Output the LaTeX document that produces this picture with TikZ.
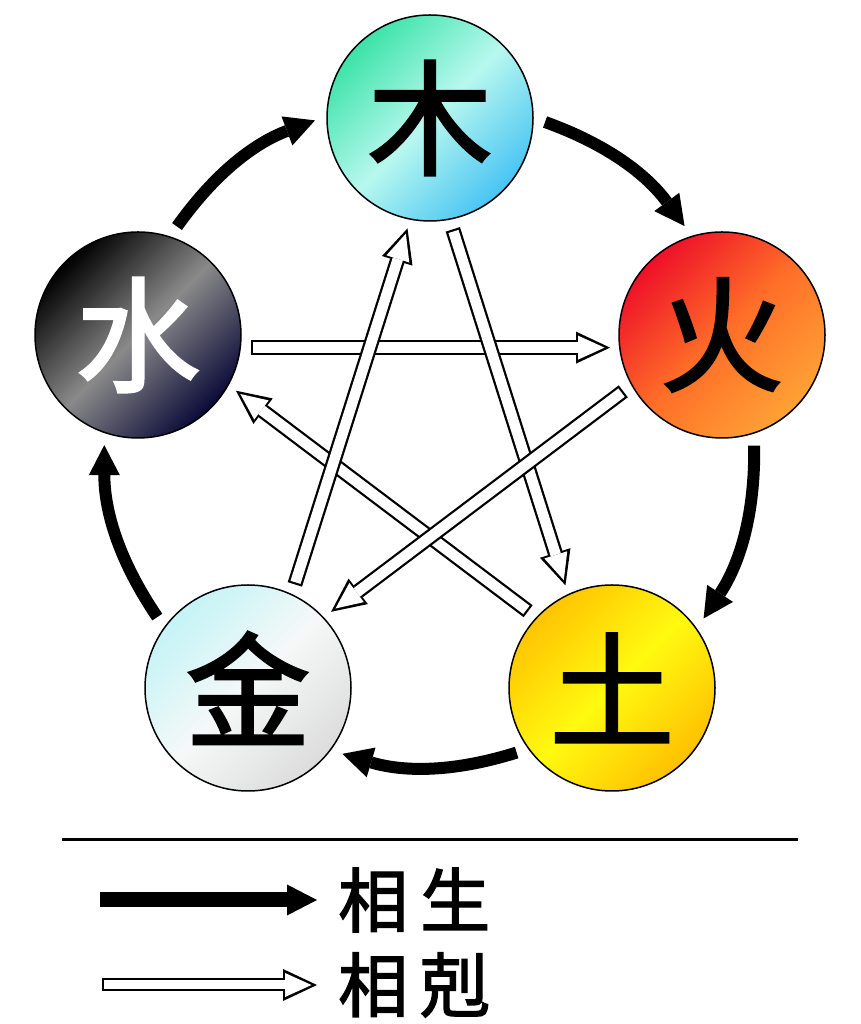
\documentclass[tikz,border=0pt]{standalone}
\usepackage{fontspec}
\newfontfamily\cjk[FakeBold=2]{Noto Sans CJK TC}
\usetikzlibrary{arrows.meta}

\definecolor{muA}{HTML}{3CE3A8}
\definecolor{muB}{HTML}{B8F8EE}
\definecolor{muC}{HTML}{48C4F4}
\definecolor{huoA}{HTML}{EE1028}
\definecolor{huoB}{HTML}{FF6E28}
\definecolor{huoC}{HTML}{FFA234}
\definecolor{tuA}{HTML}{FFC400}
\definecolor{tuB}{HTML}{FFFA10}
\definecolor{tuC}{HTML}{FFC000}
\definecolor{jinA}{HTML}{C4F4F6}
\definecolor{jinB}{HTML}{F6F8F8}
\definecolor{jinC}{HTML}{DCDCDC}
\definecolor{shuiA}{HTML}{000000}
\definecolor{shuiB}{HTML}{8A8A8A}
\definecolor{shuiC}{HTML}{0A0A38}

\begin{document}
\begin{tikzpicture}[
        x=1pt,
        y=1pt,
        element/.style={
          circle,
          draw,
          line width=1.5pt,
          minimum size=206pt,
          inner sep=0pt,
          font=\cjk\fontsize{125}{125}\selectfont
        },
        tint/.style n args={3}{
          top color=#1,
          bottom color=#3,
          middle color=#2,
          shading angle=45
        },
        sheng/.style={
          line width=12pt,
          -{Triangle[length=30pt,width=31pt,line width=0pt]},
          shorten <=12pt,
          shorten >=12pt
        },
        keouter/.style={
          line width=15pt,
          -{Triangle[length=34pt,width=32pt,line width=0pt]},
          shorten <=10pt,
          shorten >=9pt
        },
        keinner/.style={
          white,
          line width=10.5pt,
          -{Triangle[length=26.5pt,width=24pt,line width=0pt]},
          shorten <=12.2pt,
          shorten >=14.5pt
        },
        legend/.style={
          anchor=west,
          inner sep=0pt,
          font=\cjk\fontsize{70}{70}\selectfont
        }
      ]
        \useasboundingbox (0,0) rectangle (860,1024);

        \node[element,tint={muA}{muB}{muC}] (mu) at (430,906) {木};
        \node[element,tint={huoA}{huoB}{huoC}] (huo) at (722,689) {火};
        \node[element,tint={tuA}{tuB}{tuC}] (tu) at (612,336) {土};
        \node[element,tint={jinA}{jinB}{jinC}] (jin) at (248,336) {金};
        \node[element,tint={shuiA}{shuiB}{shuiC},text=white] (shui) at (138,689) {水};

        % generating cycle
        \foreach \a/\p/\b/\q in {mu/0/huo/107,huo/-72/tu/35,tu/-144/jin/-37,jin/144/shui/-109,shui/72/mu/179}
          \draw[sheng] (\a.\p) to[bend left=17] (\b.\q);

        % overcoming star
        \foreach \a/\p/\b/\q in {shui/-7/huo/-173,mu/-79/tu/115,tu/137/shui/-29,huo/-151/jin/43,jin/65/mu/-101} {
          \draw[keouter] (\a.\p) -- (\b.\q);
          \draw[keinner] (\a.\p) -- (\b.\q);
        }

        % legend
        \coordinate (rulel) at (62,184);
        \coordinate (ruler) at (798,184);
        \draw[line width=3pt] (rulel) -- (ruler);

        \node[legend] (shenglabel) at (338,124) {相\kern12pt 生};
        \node[legend] (kelabel) at (338,39) {相\kern12pt 剋};
        \coordinate (shengstart) at (100,124);
        \coordinate (kestart) at (102,39);

        \draw[sheng,line width=15pt,shorten <=0pt,shorten >=21pt] (shengstart) -- (shenglabel.west);
        \draw[keouter,line width=13pt,shorten <=0pt,shorten >=21pt] (kestart) -- (kelabel.west);
        \draw[keinner,line width=9pt,shorten <=2pt,shorten >=26.5pt] (kestart) -- (kelabel.west);
      \end{tikzpicture}
\end{document}
